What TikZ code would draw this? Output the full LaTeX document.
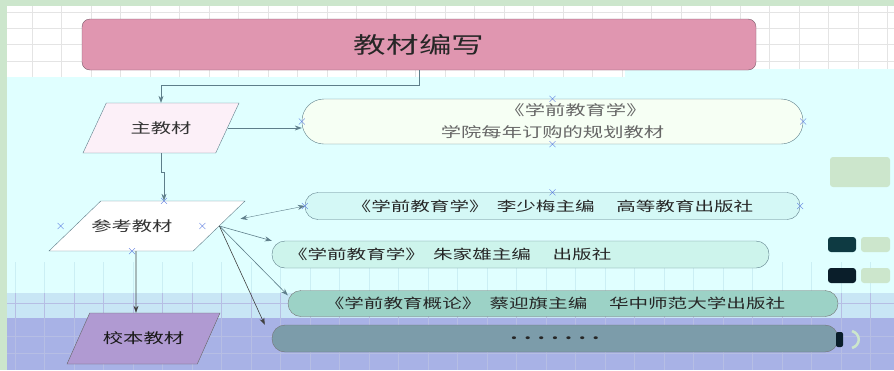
\documentclass[tikz,border=0pt]{standalone}
\usepackage{fontspec}
\setmainfont{Noto Sans CJK SC}[FakeStretch=1.45]
\usepackage{tikz}
\usetikzlibrary{arrows.meta,shapes.geometric}
\definecolor{kuangLv}{HTML}{CCE6CC}
\definecolor{wangGe}{HTML}{E4E4E4}
\definecolor{qianQing}{HTML}{E0FFFF}
\definecolor{qingGe}{HTML}{CBEFF4}
\definecolor{qianLan}{HTML}{C8E6F5}
\definecolor{ziLan}{HTML}{A8B2E6}
\definecolor{ziLanGe}{HTML}{97A3D8}
\definecolor{biaoTiFen}{HTML}{E096B0}
\definecolor{fenBian}{HTML}{7A5A6A}
\definecolor{xianHui}{HTML}{5E7E8A}
\definecolor{zhuFen}{HTML}{FCF0F8}
\definecolor{xiaoZi}{HTML}{B09AD2}
\definecolor{baiLv}{HTML}{F6FFF4}
\definecolor{qingShu}{HTML}{D4F8F6}
\definecolor{lvShu}{HTML}{CDF4EC}
\definecolor{moLv}{HTML}{9CD2C6}
\definecolor{huiLan}{HTML}{7C9CAA}
\definecolor{shenQing}{HTML}{0E3A42}
\definecolor{shenLan}{HTML}{0A1E2A}
\definecolor{dianLan}{HTML}{5A7AE0}

\begin{document}
\begin{tikzpicture}[x=1pt,y=-1pt,>={Stealth[length=7pt,width=5pt]},
  lian/.style={xianHui,semithick},
  pingXing/.style={trapezium,trapezium stretches body,draw=xianHui,inner xsep=2pt,inner ysep=18.5pt,
    text=black!80,font=\fontsize{14}{16}\selectfont},
  shuKuang/.style={draw=xianHui,minimum height=27pt,inner sep=0pt,rounded corners=13pt,
    text=black!85,font=\fontsize{13.5}{16}\selectfont},
  dian/.style={dianLan,thin}]
\useasboundingbox (0,0) rectangle (894,370);
% 背景
\fill[kuangLv] (0,0) rectangle (894,370);
\fill[white] (7,6) rectangle (894,77);
\foreach \gx in {32,61.5,...,894} \draw[wangGe] (\gx,6) -- (\gx,77);
\foreach \gy in {12,28.3,...,77} \draw[wangGe] (7,\gy) -- (894,\gy);
\fill[qianQing] (7,77) rectangle (894,293);
\fill[qianQing] (625,69) rectangle (894,77);
\foreach \gx in {15,44.5,...,894} \draw[qingGe] (\gx,262) -- (\gx,293);
\fill[qianLan] (7,293) rectangle (894,318);
\fill[ziLan] (7,318) rectangle (894,370);
\foreach \gx in {15,44.5,...,894} \draw[ziLanGe!70] (\gx,293) -- (\gx,370);
\foreach \gy in {303,336,353} \draw[ziLanGe!70] (7,\gy) -- (894,\gy);
% 标题
\node[draw=fenBian,fill=biaoTiFen,rounded corners=8pt,minimum width=674pt,minimum height=51pt,
  font=\fontsize{22.5}{26}\selectfont,text=black!85] (bianXie) at (419,44.5) {教材编写};
% 左侧三类教材
\node[pingXing,trapezium left angle=65,trapezium right angle=115,minimum width=156pt,
  fill=zhuFen] (zhuJiaoCai) at (161,128) {主教材};
\node[pingXing,trapezium left angle=44,trapezium right angle=136,minimum width=196pt,
  fill=white] (canKao) at (147,226) {\makebox[51pt][r]{参考教材}};
\node[pingXing,trapezium left angle=66,trapezium right angle=114,minimum width=153pt,
  inner ysep=19pt,fill=xiaoZi,draw=black!60,text=black!90] (xiaoBen) at (143.5,338.5) {校本教材};
% 右侧书目
\node[shuKuang,fill=baiLv,minimum width=501pt,minimum height=45pt,rounded corners=22pt,
  align=center,text=black!60,font=\fontsize{14}{22}\selectfont] (guiHua) at (552.5,121.5)
  {\hspace*{46pt}《学前教育学》\\学院每年订购的规划教材};
\node[shuKuang,fill=qingShu,minimum width=495pt] (liShaoMei) at (552.5,206)
  {《学前教育学》\hspace{0.6em}李少梅主编\hspace{1.6em}高等教育出版社};
\node[shuKuang,fill=lvShu,minimum width=497pt,text width=465pt,align=left] (zhuJiaXiong) at (520.5,254.5)
  {《学前教育学》\hspace{0.6em}朱家雄主编\hspace{1.6em}出版社};
\node[shuKuang,fill=moLv,draw=black!55,minimum width=550pt,minimum height=26pt] (caiYingQi) at (563,303.5)
  {《学前教育概论》\hspace{0.6em}蔡迎旗主编\hspace{1.6em}华中师范大学出版社\hspace*{16pt}};
\node[shuKuang,fill=huiLan,draw=black!55,minimum width=566pt] (gengDuo) at (555,338.5)
  {\textbf{.\hspace{0.5em}.\hspace{0.5em}.\hspace{0.5em}.\hspace{0.5em}.\hspace{0.5em}.\hspace{0.5em}.}};
% 连线
\draw[lian,->] (bianXie.south) -- ++(0,15) -| (zhuJiaoCai.north);
\draw[lian,->] (zhuJiaoCai.east) -- (zhuJiaoCai.east -| guiHua.west);
\draw[lian,->] (zhuJiaoCai.south) -- ++(0,19) -| ([xshift=17pt]canKao.north);
\draw[lian,thin,<->] ([xshift=-5pt,yshift=-18pt]canKao.top right corner) -- (liShaoMei.west);
\draw[lian,->] (canKao.east) -- (zhuJiaXiong.north west);
\draw[lian,->] (canKao.east) -- ([yshift=-5pt]caiYingQi.north west);
\draw[lian,->,black!75] (canKao.east) -- ([xshift=-7pt]gengDuo.north west);
\draw[lian,->,black!75] ([xshift=-11pt]canKao.south) -- ([xshift=-7.5pt]xiaoBen.north);
% 连接点
\foreach \p in {{(guiHua.west)},{(guiHua.north)},{(guiHua.south)},{(guiHua.east)},
  {(liShaoMei.west)},{(liShaoMei.north)},{(liShaoMei.east)},
  {([xshift=17pt]canKao.north)},{([xshift=-14pt]canKao.west)},
  {([xshift=-17pt]canKao.east)},{([xshift=-15pt]canKao.south)}}
  \draw[dian] \p +(-3,-3) -- +(3,3) +(-3,3) -- +(3,-3);
% 右边小块
\fill[kuangLv,rounded corners=3pt] (830,157) rectangle (890,187);
\fill[shenQing,rounded corners=3pt] (828,237) rectangle (856,252);
\fill[kuangLv,rounded corners=3pt] (861,237) rectangle (890,252);
\fill[shenLan,rounded corners=3pt] (828,268) rectangle (856,283);
\fill[kuangLv,rounded corners=3pt] (861,268) rectangle (890,283);
\fill[shenLan,rounded corners=2pt] (836,332) rectangle (843,347);
\draw[kuangLv,line width=2.5pt] (852,331) .. controls (861,334) and (861,345) .. (852,348);
\end{tikzpicture}
\end{document}
